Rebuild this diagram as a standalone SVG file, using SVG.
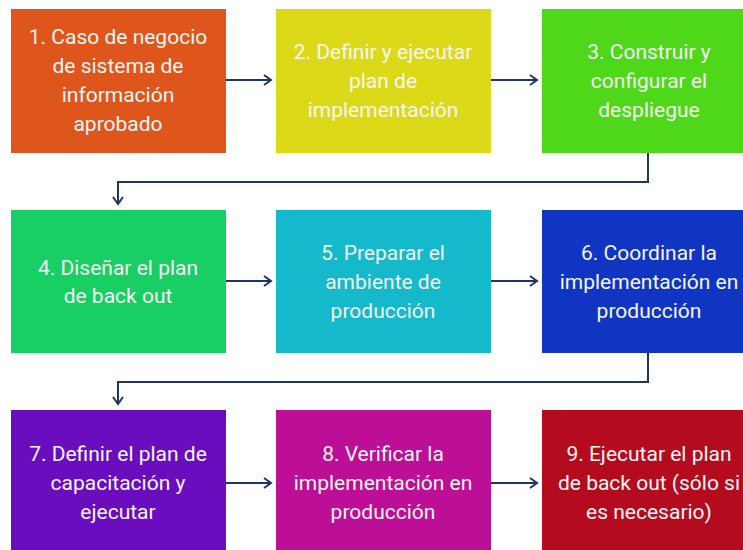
<svg xmlns="http://www.w3.org/2000/svg" width="743" height="550" viewBox="0 0 743 550">
<defs>
<style>
.box{stroke:none}
.t{font-family:Roboto,"Liberation Sans",sans-serif;font-size:21px;fill:#F5F5F5;text-anchor:middle}
.c{fill:none;stroke:#1E3566;stroke-width:2}
</style>
<marker id="ah" markerWidth="10" markerHeight="12" refX="8" refY="6" orient="auto" markerUnits="userSpaceOnUse">
<path d="M1,1 L8,6 L1,11" fill="none" stroke="#1E3566" stroke-width="2"/>
</marker>
</defs>
<rect width="743" height="550" fill="#FFFFFF"/>
<g id="connectors">
<path class="c" d="M226,80 H271" marker-end="url(#ah)"/>
<path class="c" d="M491,80 H537" marker-end="url(#ah)"/>
<path class="c" d="M648,153 V182 H118 V204" marker-end="url(#ah)"/>
<path class="c" d="M226,281 H271" marker-end="url(#ah)"/>
<path class="c" d="M491,281 H537" marker-end="url(#ah)"/>
<path class="c" d="M648,353 V382 H118 V404" marker-end="url(#ah)"/>
<path class="c" d="M226,483 H271" marker-end="url(#ah)"/>
<path class="c" d="M491,483 H537" marker-end="url(#ah)"/>
</g>
<g id="n1"><rect class="box" x="11" y="9" width="215" height="144" fill="#DF561D"/>
<text class="t" x="118" y="44">1. Caso de negocio</text><text class="t" x="118" y="73">de sistema de</text><text class="t" x="118" y="102">información</text><text class="t" x="118" y="131">aprobado</text></g>
<g id="n2"><rect class="box" x="276" y="9" width="215" height="144" fill="#DCDA18"/>
<text class="t" x="383" y="59">2. Definir y ejecutar</text><text class="t" x="383" y="88">plan de</text><text class="t" x="383" y="117">implementación</text></g>
<g id="n3"><rect class="box" x="542" y="9" width="215" height="144" fill="#4FD819"/>
<text class="t" x="649" y="59">3. Construir y</text><text class="t" x="649" y="88">configurar el</text><text class="t" x="649" y="117">despliegue</text></g>
<g id="n4"><rect class="box" x="11" y="210" width="215" height="143" fill="#17CF62"/>
<text class="t" x="118" y="275">4. Diseñar el plan</text><text class="t" x="118" y="303">de back out</text></g>
<g id="n5"><rect class="box" x="276" y="210" width="215" height="143" fill="#14B9CB"/>
<text class="t" x="383" y="260">5. Preparar el</text><text class="t" x="383" y="289">ambiente de</text><text class="t" x="383" y="318">producción</text></g>
<g id="n6"><rect class="box" x="542" y="210" width="215" height="143" fill="#1035C3"/>
<text class="t" x="649" y="260">6. Coordinar la</text><text class="t" x="649" y="289">implementación en</text><text class="t" x="649" y="318">producción</text></g>
<g id="n7"><rect class="box" x="11" y="410" width="215" height="143" fill="#6A0DBF"/>
<text class="t" x="118" y="461">7. Definir el plan de</text><text class="t" x="118" y="490">capacitación y</text><text class="t" x="118" y="519">ejecutar</text></g>
<g id="n8"><rect class="box" x="276" y="410" width="215" height="143" fill="#BC0E96"/>
<text class="t" x="383" y="461">8. Verificar la</text><text class="t" x="383" y="490">implementación en</text><text class="t" x="383" y="519">producción</text></g>
<g id="n9"><rect class="box" x="542" y="410" width="215" height="143" fill="#B50B1E"/>
<text class="t" x="649" y="461">9. Ejecutar el plan</text><text class="t" x="649" y="490">de back out (sólo si</text><text class="t" x="649" y="519">es necesario)</text></g>
</svg>
